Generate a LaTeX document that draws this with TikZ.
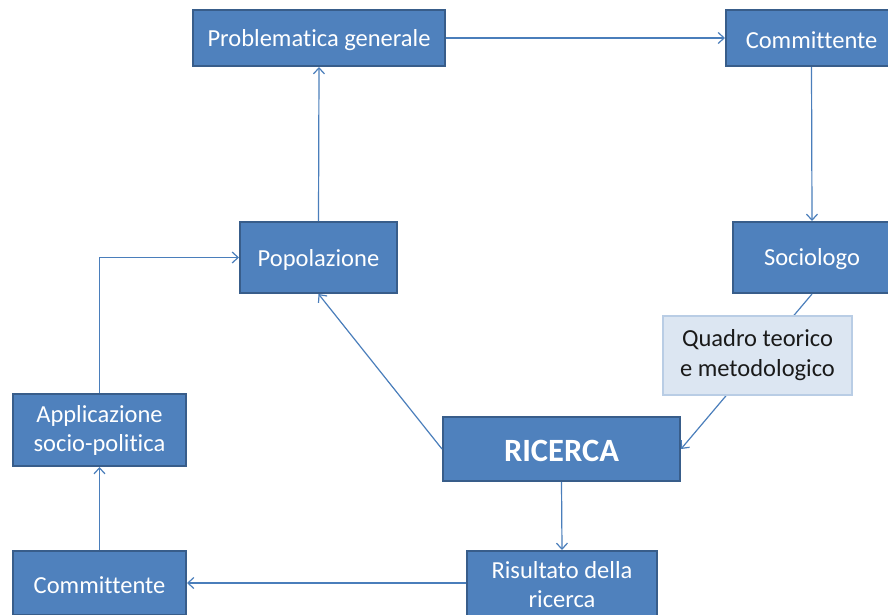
\documentclass[tikz,border=0pt]{standalone}
\usepackage{fontspec}
\setmainfont[Ligatures=NoCommon]{Carlito}
\usetikzlibrary{arrows.meta}
\definecolor{boxfill}{HTML}{4F81BD}
\definecolor{boxline}{HTML}{385D8A}
\definecolor{conn}{HTML}{4A7EBB}
\definecolor{lightfill}{HTML}{DCE6F2}
\definecolor{lightline}{HTML}{B9CDE5}
\definecolor{darktext}{HTML}{1A1A1A}
\newcommand{\lowtext}[1]{\raisebox{-2pt}[\height][\depth]{#1}}
\tikzset{
  bluebox/.style={draw=boxline, fill=boxfill, line width=2pt, inner sep=0pt,
    text=white, align=center, font=\fontsize{24.5}{29}\selectfont},
  lightbox/.style={draw=lightline, fill=lightfill, line width=2pt, inner sep=0pt,
    text=darktext, align=center, font=\fontsize{24.5}{30}\selectfont},
  arr/.style={draw=conn, line width=1.2pt, -{Straight Barb[length=6pt,width=11pt,line width=1.2pt]}}
}
\begin{document}
\begin{tikzpicture}[x=1pt,y=-1pt]
\useasboundingbox (0,0) rectangle (888,614);
\fill[white] (0,0) rectangle (888,614);
\clip (0,0) rectangle (888,614);

\node[bluebox, minimum width=252pt, minimum height=56pt] (prob) at (319,38) {\lowtext{Problematica generale}};
\node[bluebox, minimum width=171pt, minimum height=56pt] (comm1) at (811.5,38) {\lowtext{Committente}};
\node[bluebox, minimum width=158pt, minimum height=71pt] (soc) at (812,257.5) {\lowtext{Sociologo}};
\node[bluebox, minimum width=157pt, minimum height=71pt] (pop) at (318.5,257.5) {\lowtext{Popolazione}};
\node[bluebox, minimum width=237pt, minimum height=64pt, font=\fontsize{32.5}{36}\selectfont\bfseries] (ric) at (561.5,449) {\lowtext{RICERCA}};
\node[bluebox, minimum width=173pt, minimum height=72pt] (app) at (99.5,430) {Applicazione\\socio-politica};
\node[bluebox, minimum width=173pt, minimum height=64pt] (comm2) at (99.5,583) {\lowtext{Committente}};
\node[bluebox, minimum width=190pt, minimum height=68pt] (ris) at (562,585) {Risultato della\\ricerca};

\draw[arr] (prob.east) -- (comm1.west);
\draw[arr] (comm1.south) -- (soc.north);
\draw[arr] (soc.south) -- (ric.east);
\draw[arr] (ric.west) -- (pop.south);
\draw[arr] (pop.north) -- (prob.south);
\draw[arr] (ric.south) -- (ris.north);
\draw[arr] (ris.west |- comm2.east) -- (comm2.east);
\draw[arr] (comm2.north) -- (app.south);
\draw[arr] (app.north) |- (pop.west);

\node[lightbox, minimum width=189pt, minimum height=79pt] (quadro) at (757.5,355.5) {Quadro teorico\\e metodologico};
\end{tikzpicture}
\end{document}
